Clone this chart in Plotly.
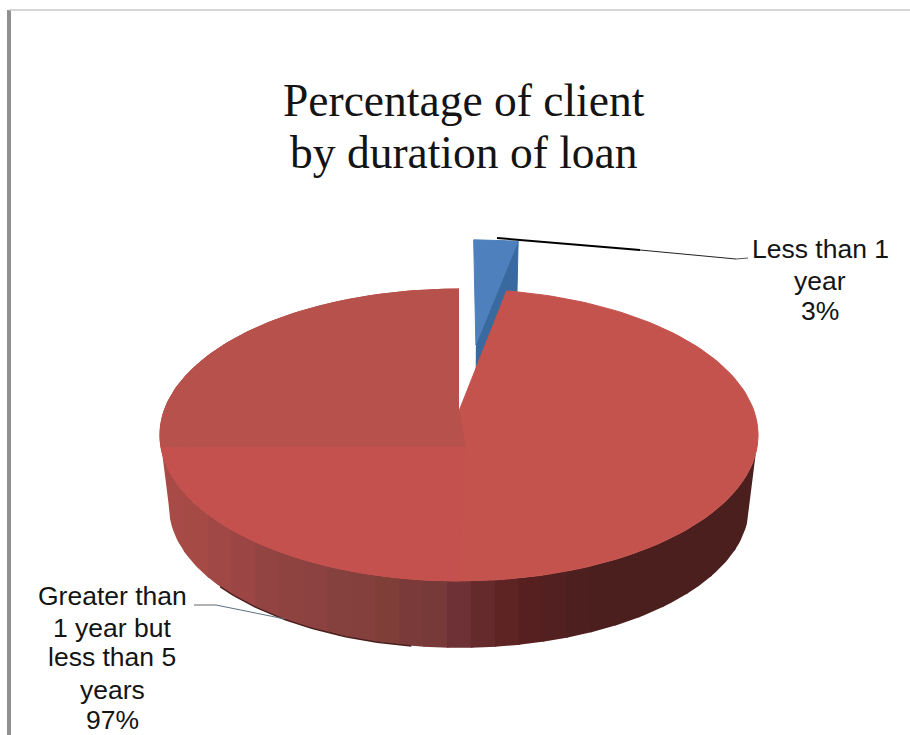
import numpy as np
import plotly.graph_objects as go

# Loan-duration shares
categories = ["Less than 1 year", "Greater than 1 year but less than 5 years"]
shares = [3, 97]
title_lines = ["Percentage of client", "by duration of loan"]
label_small = ["Less than 1", "year", "3%"]
label_large = ["Greater than", "1 year but", "less than 5", "years", "97%"]

# Side-wall shades, from the left edge of the disc to the right
wall_shades = [
    "#a84b47", "#a64a46", "#a04845", "#9b4644", "#924442", "#8e4340", "#8b4240",
    "#85413e", "#84403d", "#7f3f38", "#7b3a3a", "#773a38", "#6d3136", "#642a2c",
    "#5e2323", "#572020", "#522020", "#4e1f1f", "#4a1f1e", "#4a1f1e", "#4a1f1e",
    "#4a1f1e", "#4a1f1e", "#4a1f1e", "#4a1f1e",
]

# Projection of the disc: unit-circle coordinates to the canvas axes
CX, CY = 459.0, 411.0
HALF_W, HALF_H = 295.0, 142.0
PERSP = 0.1644
WALL_SHRINK, WALL_DROP = 0.97, 72.0
EXPLODE_U, EXPLODE_V = 0.062, 0.503


def project(u, v, bottom=False):
    u, v = np.asarray(u, float), np.asarray(v, float)
    w = 1 + PERSP * v
    x = CX + HALF_W * u / w
    y = CY - HALF_H * v / w
    if bottom:
        x = CX + (x - CX) * WALL_SHRINK
        y = CY + (y - CY) * WALL_SHRINK + WALL_DROP
    return x, y


def rim(start, end, n=200):
    t = np.radians(np.linspace(start, end, n))
    return np.sin(t), np.cos(t)


def fill_xy(fig, x, y, color, edge=1):
    fig.add_trace(go.Scatter(x=x, y=y, mode="lines", fill="toself", fillcolor=color,
                             line=dict(color=color, width=edge), hoverinfo="skip",
                             showlegend=False))


def polygon(fig, u, v, color):
    x, y = project(u, v)
    fill_xy(fig, x, y, color)


small_deg = 360 * shares[0] / sum(shares)
fig = go.Figure()

# Exploded small slice: radial side face first, then its top
edge_u, edge_v = np.sin(np.radians(small_deg)), np.cos(np.radians(small_deg))
sx0, sy0 = project([EXPLODE_U, edge_u + EXPLODE_U], [EXPLODE_V, edge_v + EXPLODE_V])
sx1, sy1 = project([edge_u + EXPLODE_U, EXPLODE_U], [edge_v + EXPLODE_V, EXPLODE_V], True)
fill_xy(fig, np.r_[sx0, sx1], np.r_[sy0, sy1], "#38699f")
u, v = rim(0, small_deg, 30)
polygon(fig, np.r_[EXPLODE_U, u + EXPLODE_U], np.r_[EXPLODE_V, v + EXPLODE_V], "#4d80bd")

# Side wall of the large slice: vertical bands between the upper and lower rims
u, v = rim(272, 88, 400)
top_x, top_y = project(u, v)
low_x, low_y = project(u, v, True)
left = top_x.argmin()
right = top_x.argmax()
upper_x, upper_y = top_x[left:right + 1], top_y[left:right + 1]
lower_x = np.r_[upper_x[0], low_x[low_x.argmin():low_x.argmax() + 1], upper_x[-1]]
lower_y = np.r_[upper_y[0], low_y[low_x.argmin():low_x.argmax() + 1], upper_y[-1]]
band_edges = np.linspace(upper_x[0], upper_x[-1], len(wall_shades) + 1)
for shade, a, b in zip(wall_shades, band_edges[:-1], band_edges[1:]):
    # Each band runs a little under the next one so no seam shows
    xs = np.linspace(a, min(b + 1.5, upper_x[-1]), 16)
    ys_up = np.interp(xs, upper_x, upper_y)
    ys_low = np.interp(xs, lower_x, lower_y)
    fill_xy(fig, np.r_[xs, xs[::-1]], np.r_[ys_up, ys_low[::-1]], shade, edge=0)

# Top face of the large slice with its lighting zones
u, v = rim(small_deg, 360)
polygon(fig, np.r_[0, u], np.r_[0, v], "#c4534d")
u, v = rim(180, 256)
polygon(fig, np.r_[0.02, u], np.r_[-0.237, v], "#c5514f")
u, v = rim(256, 360)
polygon(fig, np.r_[0, 0.02, u], np.r_[0, -0.237, v], "#b7514b")

# Dark sliver along the lower rim
u, v = rim(188, 228, 40)
rx, ry = project(u, v, True)
fig.add_trace(go.Scatter(x=rx, y=ry, mode="lines", line=dict(color="#4a1f1e", width=1.5),
                         hoverinfo="skip", showlegend=False))

line_shapes = [
    dict(x0=9, x1=9, y0=10, y1=735, color="#909090", width=4),
    dict(x0=9, x1=910, y0=10, y1=10, color="#c8c8c8", width=1.5),
    dict(x0=497, x1=640, y0=238, y1=250, color="#000000", width=2),
    dict(x0=640, x1=736, y0=250, y1=259, color="#222222", width=1),
    dict(x0=736, x1=748, y0=259, y1=258, color="#555555", width=1),
    dict(x0=194, x1=216, y0=605, y1=605, color="#666666", width=1),
    dict(x0=216, x1=285, y0=605, y1=619, color="#5d6f80", width=1),
]
for s in line_shapes:
    fig.add_shape(type="line", x0=s["x0"], x1=s["x1"], y0=s["y0"], y1=s["y1"],
                  line=dict(color=s["color"], width=s["width"]))


def text_line(text, x, y, size, family):
    fig.add_annotation(x=x, y=y, text=text, showarrow=False, xanchor="center", yanchor="middle",
                       font=dict(size=size, family=family, color="#141414"))


for text, y in zip(title_lines, [100, 152]):
    text_line(text, 464, y, 45.5, "Liberation Serif")
for text, y in zip(label_small, [249, 281, 311]):
    text_line(text, 820, y, 26.5, "Liberation Sans")
for text, y in zip(label_large, [596, 628, 657, 690, 720]):
    text_line(text, 112, y, 26.5, "Liberation Sans")

fig.update_layout(
    width=910, height=735, margin=dict(l=0, r=0, t=0, b=0),
    paper_bgcolor="#ffffff", plot_bgcolor="#ffffff", showlegend=False,
    xaxis=dict(range=[0, 910], visible=False, fixedrange=True),
    yaxis=dict(range=[735, 0], visible=False, fixedrange=True),
)
fig.write_html("out.html")
